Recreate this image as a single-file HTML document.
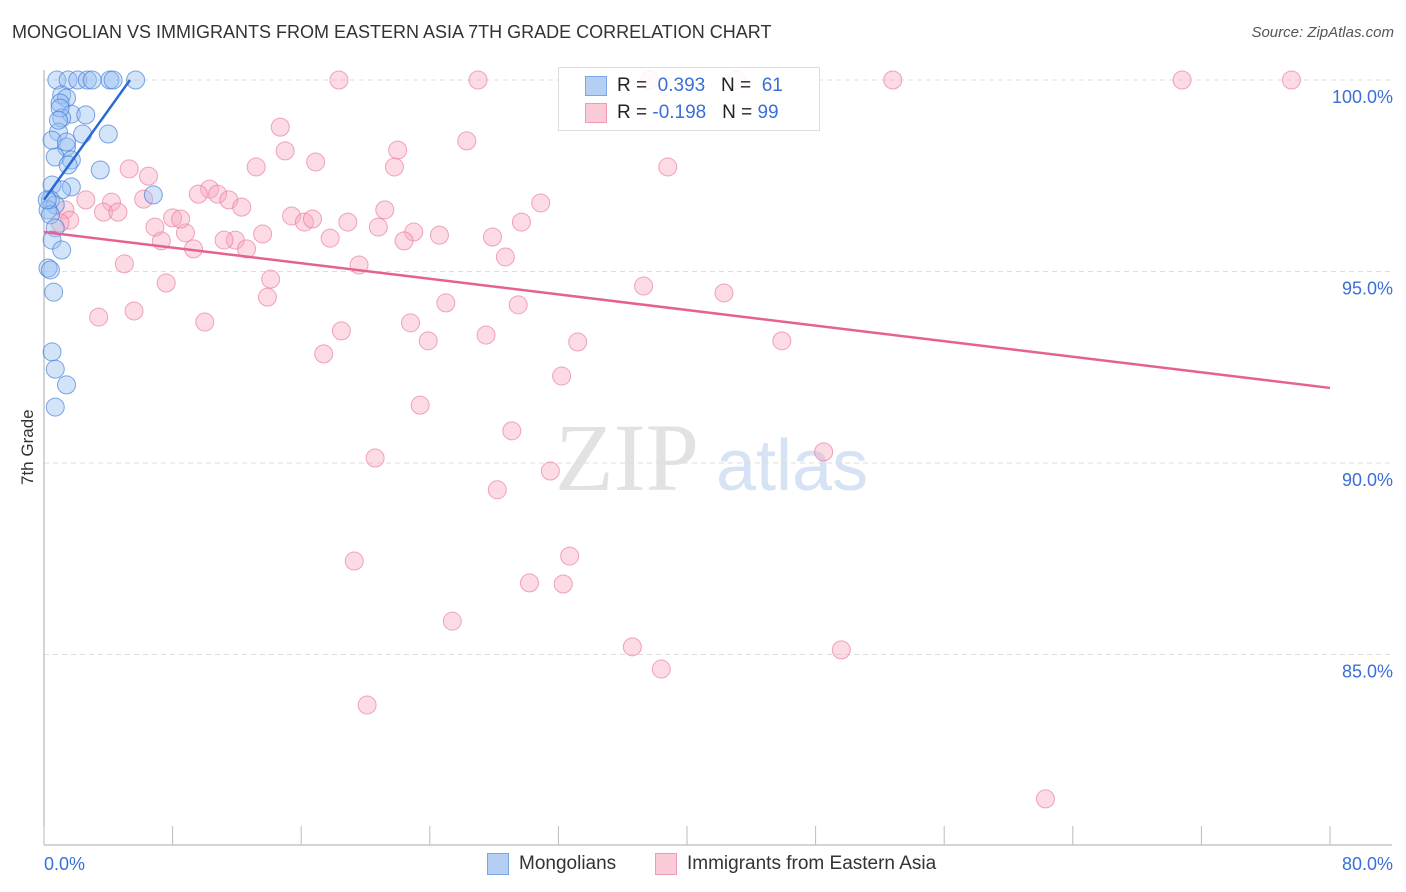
<!DOCTYPE html>
<html><head><meta charset="utf-8"><style>
body{margin:0;background:#fff;font-family:"Liberation Sans",sans-serif;}
#wrap{position:relative;width:1406px;height:892px;overflow:hidden;}
.t{position:absolute;white-space:nowrap;}
</style></head><body>
<div id="wrap">
<div class="t" style="left:12px;top:22px;font-size:18px;color:#333;">MONGOLIAN VS IMMIGRANTS FROM EASTERN ASIA 7TH GRADE CORRELATION CHART</div>
<div class="t" style="right:12px;top:24px;font-size:15px;color:#555;font-style:italic;">Source: ZipAtlas.com</div>
<div class="t" style="left:-2px;top:445px;font-size:17px;color:#333;transform:rotate(-90deg);transform-origin:center;width:60px;text-align:center;">7th Grade</div>
<svg id="plot" width="1406" height="892" style="position:absolute;left:0;top:0"></svg>
<div style="position:absolute;left:558px;top:67px;width:260px;height:62px;border:1px solid #ddd;background:rgba(255,255,255,0.85);font-size:19px;">
 <div style="position:absolute;left:26px;top:8px;width:20px;height:18px;background:#b5cff3;border:1px solid #7aa6e6;"></div>
 <div class="t" style="left:58px;top:7px;color:#222;">R = <span style="color:#3a6fd8">&nbsp;0.393</span>&nbsp;&nbsp;&nbsp;N = <span style="color:#3a6fd8">&nbsp;61</span></div>
 <div style="position:absolute;left:26px;top:35px;width:20px;height:18px;background:#fbcad7;border:1px solid #ee9ab2;"></div>
 <div class="t" style="left:58px;top:34px;color:#222;">R = <span style="color:#3a6fd8">-0.198</span>&nbsp;&nbsp;&nbsp;N = <span style="color:#3a6fd8">99</span></div>
</div>
<div style="position:absolute;left:487px;top:853px;width:20px;height:20px;background:#b5cff3;border:1px solid #7aa6e6;"></div>
<div class="t" style="left:519px;top:853px;font-size:19px;color:#333;">Mongolians</div>
<div style="position:absolute;left:655px;top:853px;width:20px;height:20px;background:#fbcad7;border:1px solid #ee9ab2;"></div>
<div class="t" style="left:687px;top:853px;font-size:19px;color:#333;">Immigrants from Eastern Asia</div>
</div>
<script>
const yTicks=[100,95,90,85];
const xLabels=[0,80];
const pinkX=[18.35,27.0,37.7,43.1,52.8,70.8,77.6,14.7,26.3,15.0,22.0,16.9,38.8,13.2,21.8,5.3,6.5,10.3,9.6,10.8,11.5,6.2,2.6,4.2,12.3,21.2,30.9,15.4,16.2,16.7,18.9,20.8,23.0,24.6,29.7,27.9,22.4,17.8,13.6,11.9,11.2,7.3,8.8,6.9,8.0,8.5,9.3,12.6,3.7,4.6,1.3,1.6,1.0,5.0,19.6,28.7,14.1,7.6,13.9,25.0,29.5,37.3,42.3,3.4,5.6,10.0,18.5,22.8,27.5,23.9,33.2,45.9,17.4,32.2,23.4,29.1,20.6,48.5,31.5,28.2,32.7,19.3,30.2,32.3,25.4,36.6,49.6,38.4,20.1,62.3];
const pinkY=[100,100,100,100,100,100,100,98.77,98.41,98.15,98.17,97.86,97.73,97.73,97.73,97.68,97.49,97.15,97.02,97.02,96.87,96.89,96.87,96.81,96.68,96.61,96.79,96.45,96.29,96.37,96.29,96.16,96.03,95.95,96.29,95.90,95.80,95.87,95.98,95.82,95.82,95.80,96.01,96.16,96.40,96.37,95.59,95.59,96.55,96.55,96.61,96.34,96.27,95.20,95.17,95.38,94.80,94.70,94.33,94.18,94.13,94.62,94.44,93.81,93.97,93.68,93.45,93.66,93.34,93.19,93.16,93.19,92.85,92.27,91.51,90.84,90.13,90.29,89.79,89.30,87.57,87.44,86.87,86.84,85.87,85.20,85.12,84.62,83.68,81.23];
const blueX=[0.8,1.5,2.1,2.7,3.0,4.1,4.3,5.7,1.1,1.4,1.0,1.7,2.6,1.1,0.9,2.4,4.0,1.4,0.7,1.7,1.5,3.5,0.5,1.7,1.1,6.8,0.4,0.7,0.25,0.4,0.7,0.5,1.1,0.25,0.4,0.6,0.5,0.7,1.4,0.7,1.0,0.5,0.2,1.4,0.9];
const blueY=[100,100,100,100,100,100,100,100,99.61,99.53,99.40,99.11,99.09,99.01,98.64,98.59,98.59,98.25,97.99,97.91,97.78,97.65,97.26,97.21,97.13,97.00,96.87,96.74,96.61,96.48,96.14,95.82,95.56,95.09,95.04,94.46,92.90,92.45,92.04,91.46,99.27,98.43,96.87,98.38,98.95];
const blueTrend=[[0,96.87],[5.35,100]];
const pinkTrend=[[0,96.03],[80,91.96]];
const X=v=>44+v*1286/80, Y=v=>80+(100-v)*38.3;
const svg=document.getElementById('plot'), NS='http://www.w3.org/2000/svg';
function mk(tag,attrs){const e=document.createElementNS(NS,tag);for(const k in attrs)e.setAttribute(k,attrs[k]);svg.appendChild(e);return e;}
let wm=mk('text',{x:555,y:490,'font-size':96,fill:'#e2e2e2','font-family':'Liberation Serif, serif'});wm.textContent='ZIP';


let wm2=mk('text',{x:716,y:490,'font-size':72,fill:'#d5e3f5','font-family':'Liberation Sans, sans-serif'});wm2.textContent='atlas';


yTicks.forEach(v=>{
 const g=mk('line',{x1:44,x2:1392,y1:Y(v),y2:Y(v),stroke:'#ddd','stroke-dasharray':'5,4'});
 
 
 const t=mk('text',{x:1393,y:Y(v)+23,'text-anchor':'end','font-size':18,fill:'#3a6fd8'});t.textContent=v.toFixed(1)+'%';
 
 
});
mk('line',{x1:44,x2:44,y1:70,y2:845,stroke:'#aaa'});
mk('line',{x1:44,x2:1392,y1:845,y2:845,stroke:'#aaa'});
for(let i=0;i<=10;i++){const tk=mk('line',{x1:X(i*8),x2:X(i*8),y1:826,y2:845,stroke:'#bbb'});
 
 }
xLabels.forEach((v,i)=>{const t=mk('text',{x:i?1393:44,y:870,'text-anchor':i?'end':'start','font-size':18,fill:'#3a6fd8'});t.textContent=v.toFixed(1)+'%';
 
 });
pinkX.forEach((x,i)=>{const c=mk('circle',{cx:X(x),cy:Y(pinkY[i]),r:9,fill:'rgba(248,170,192,0.42)',stroke:'rgba(232,120,155,0.65)','stroke-width':1});
 
 });
blueX.forEach((x,i)=>{const c=mk('circle',{cx:X(x),cy:Y(blueY[i]),r:9,fill:'rgba(150,190,240,0.42)',stroke:'rgba(60,120,215,0.65)','stroke-width':1});
 
 });
const bl=mk('line',{x1:X(blueTrend[0][0]),y1:Y(blueTrend[0][1]),x2:X(blueTrend[1][0]),y2:Y(blueTrend[1][1]),stroke:'#2a6ad6','stroke-width':2.5});


const pl=mk('line',{x1:X(pinkTrend[0][0]),y1:Y(pinkTrend[0][1]),x2:X(pinkTrend[1][0]),y2:Y(pinkTrend[1][1]),stroke:'#e5628f','stroke-width':2.5});


</script>
</body></html>
